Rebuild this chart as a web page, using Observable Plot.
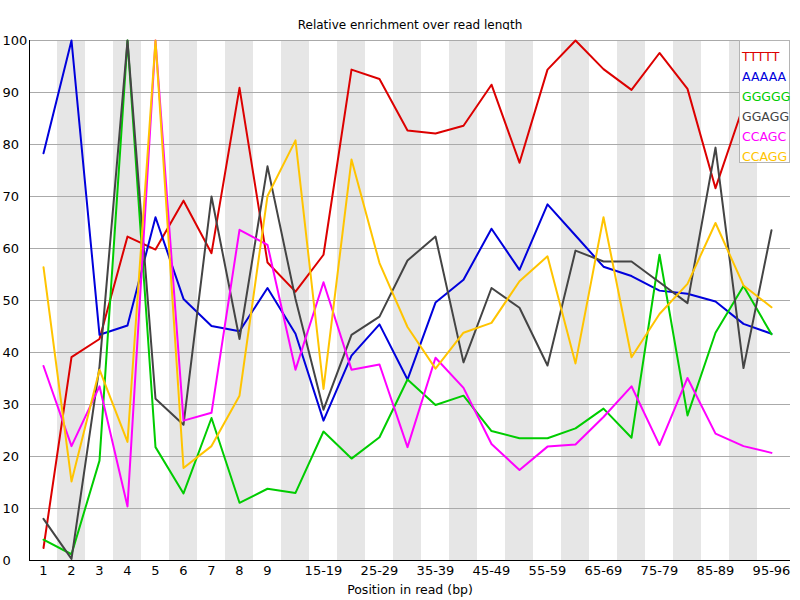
<!DOCTYPE html>
<html>
<head>
<meta charset="utf-8">
<script src="https://cdn.jsdelivr.net/npm/d3@7"></script>
<script src="https://cdn.jsdelivr.net/npm/@observablehq/plot@0.6"></script>
<style>
  body { margin: 0; background: #fff; font-family: "DejaVu Sans", sans-serif; }
  #wrap { position: relative; width: 800px; height: 600px; }
  #title { position: absolute; left: 0; top: 17px; width: 820px; height: 16px; text-align: center; font-size: 12px; line-height: 16px; }
  #chart { position: absolute; left: 0; top: 30px; }
  #legend { position: absolute; left: 739px; top: 40px; width: 51px; height: 123px; box-sizing: border-box;
            border: 1px solid #b4b4b4; background: #fff; font-size: 12.5px; padding: 8px 0 0 2px; }
  #legend div { height: 20px; line-height: 16px; }
</style>
</head>
<body>
<div id="wrap">
  <div id="title">Relative enrichment over read length</div>
  <div id="chart"></div>
  <div id="legend"></div>
</div>
<script>
const categories = ["1","2","3","4","5","6","7","8","9","10-14","15-19","20-24","25-29","30-34","35-39","40-44","45-49","50-54","55-59","60-64","65-69","70-74","75-79","80-84","85-89","90-94","95-96"];
const seriesNames = ["TTTTT","AAAAA","GGGGG","GGAGG","CCAGC","CCAGG"];
const seriesColors = ["#dc0000","#0000dc","#00cc00","#444444","#ff00ff","#ffc400"];
const TTTTT = [2.4, 39.1, 42.6, 62.3, 59.8, 69.2, 59.1, 90.9, 57.3, 51.7, 58.8, 94.4, 92.6, 82.7, 82.1, 83.6, 91.5, 76.5, 94.4, 100, 94.5, 90.5, 97.6, 90.7, 71.6, 87.5, 86];
const AAAAA = [78.3, 100, 43.4, 45.2, 66.0, 50.3, 45.1, 44.1, 52.4, 43.6, 26.9, 39.4, 45.4, 34.8, 49.6, 54.0, 63.8, 55.9, 68.5, 62.5, 56.5, 54.7, 51.9, 51.3, 49.8, 45.5, 43.6];
const GGGGG = [4.0, 1.2, 19.2, 100, 21.8, 12.9, 27.4, 11.1, 13.8, 13.0, 24.8, 19.6, 23.7, 34.8, 29.9, 31.7, 24.9, 23.5, 23.5, 25.4, 29.2, 23.6, 58.8, 27.9, 43.8, 52.8, 43.5];
const GGAGG = [8.0, 0.3, 37.3, 100, 31.1, 26.1, 70.0, 42.6, 75.8, 50.3, 29.0, 43.4, 46.9, 57.7, 62.3, 38.1, 52.4, 48.6, 37.5, 59.6, 57.5, 57.5, 53.5, 49.5, 79.4, 37.0, 63.5];
const CCAGC = [37.4, 22.0, 33.5, 10.4, 100, 26.9, 28.4, 63.6, 60.7, 36.7, 53.5, 36.7, 37.7, 21.8, 39.0, 33.2, 22.4, 17.4, 21.9, 22.3, 27.6, 33.5, 22.2, 35.1, 24.4, 22.0, 20.7];
const CCAGG = [56.4, 15.2, 36.7, 22.8, 100, 17.8, 22.0, 31.7, 70.1, 80.8, 33.0, 77.1, 57.2, 44.9, 36.9, 43.8, 45.7, 53.7, 58.5, 37.9, 66.0, 39.1, 47.4, 53.2, 64.9, 52.9, 48.7];
const yTicks = [0,10,20,30,40,50,60,70,80,90,100];
const xLabel = "Position in read (bp)";

const seriesValues = [TTTTT, AAAAA, GGGGG, GGAGG, CCAGC, CCAGG];
const rows = [];
seriesNames.forEach((name, s) => {
  seriesValues[s].forEach((v, i) => rows.push({kmer: name, pos: categories[i], value: v}));
});
const stripes = categories.filter((c, i) => i % 2 === 1);
const shownLabel = (c) => {
  const i = categories.indexOf(c);
  return (i < 9 || (i - 9) % 2 === 1) ? c : "";
};

const plot = Plot.plot({
  width: 800,
  height: 570,
  marginTop: 10,
  marginBottom: 40,
  marginLeft: 29,
  marginRight: 10,
  style: {fontFamily: "DejaVu Sans, sans-serif", fontSize: "13px", background: "#fff"},
  x: {type: "band", domain: categories, padding: 0, insetRight: 5, label: null},
  y: {domain: [0, 100], label: null},
  color: {domain: seriesNames, range: seriesColors},
  marks: [
    Plot.barY(stripes, {x: d => d, y1: 0, y2: 100, fill: "#e6e6e6"}),
    Plot.ruleY(yTicks, {stroke: "#aaaaaa", strokeWidth: 1}),
    Plot.axisY({ticks: yTicks, tickSize: 0, tickPadding: 27, textAnchor: "start", fontSize: 13, label: null}),
    Plot.axisX({tickSize: 0, tickPadding: 5, tickFormat: shownLabel, fontSize: 13, label: null}),
    Plot.text([xLabel], {frameAnchor: "bottom", dy: 33, text: d => d, fontSize: 12.5}),
    Plot.ruleY([0], {stroke: "#000", strokeWidth: 1}),
    Plot.frame({anchor: "left", stroke: "#000"}),
    Plot.line(rows, {x: "pos", y: "value", z: "kmer", stroke: "kmer", strokeWidth: 2}),
  ]
});
document.getElementById("chart").appendChild(plot);

const legend = document.getElementById("legend");
seriesNames.forEach((n, i) => {
  const d = document.createElement("div");
  d.textContent = n;
  d.style.color = seriesColors[i];
  legend.appendChild(d);
});
</script>
</body>
</html>
